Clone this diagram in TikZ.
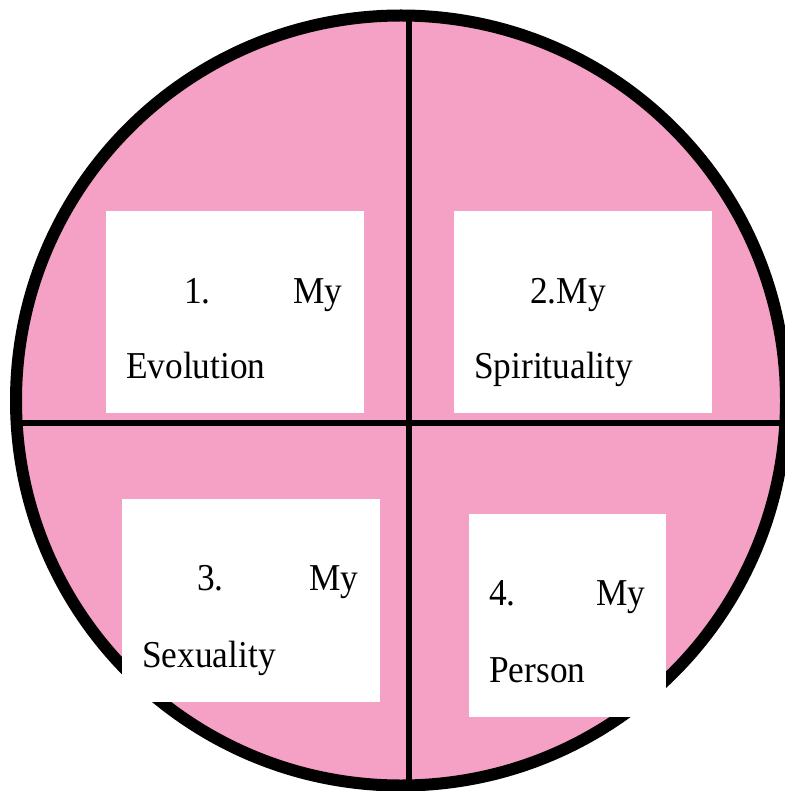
\documentclass[tikz,border=0pt]{standalone}
\usepackage{fontspec}
\newfontfamily\labfont[FakeStretch=0.93]{Liberation Serif}
\definecolor{pinkfill}{RGB}{245,160,197}
\begin{document}
\begin{tikzpicture}[x=1pt,y=-1pt,
  whitebox/.style={rectangle,fill=white,draw=none,inner sep=0pt},
  lab/.style={anchor=base west,inner sep=0pt,font=\labfont\fontsize{38}{38}\selectfont}]
\useasboundingbox (0,0) rectangle (784,791);
\coordinate (c) at (401,400.5);
% filled disc
\fill[pinkfill] (c) circle[radius=385];
% dividing lines clipped to the disc
\begin{scope}
  \clip (c) circle[radius=385];
  \coordinate (vt) at (409,0);
  \coordinate (vb) at (409,791);
  \coordinate (hl) at (0,423);
  \coordinate (hr) at (800,423);
  \draw[line width=6] (vt) -- (vb);
  \draw[line width=6.5] (hl) -- (hr);
\end{scope}
% rim
\draw[line width=12] (c) circle[radius=385];
% white boxes
\node[whitebox,minimum width=258,minimum height=202] (b1) at (235,312) {};
\node[whitebox,minimum width=258,minimum height=202] (b2) at (583,312) {};
\node[whitebox,minimum width=258,minimum height=203] (b3) at (251,600.5) {};
\node[whitebox,minimum width=197,minimum height=203] (b4) at (567.5,615.5) {};
% labels
\node[lab] (t1a) at (184,303) {1.};
\node[lab] (t1b) at (293,303) {My};
\node[lab] (t1c) at (126,378) {Evolution};
\node[lab] (t2a) at (530,303) {2.My};
\node[lab] (t2c) at (474,378) {Spirituality};
\node[lab] (t3a) at (197,590) {3.};
\node[lab] (t3b) at (309,590) {My};
\node[lab] (t3c) at (142,667) {Sexuality};
\node[lab] (t4a) at (489,605) {4.};
\node[lab] (t4b) at (596,605) {My};
\node[lab] (t4c) at (489,682) {Person};
\end{tikzpicture}
\end{document}
